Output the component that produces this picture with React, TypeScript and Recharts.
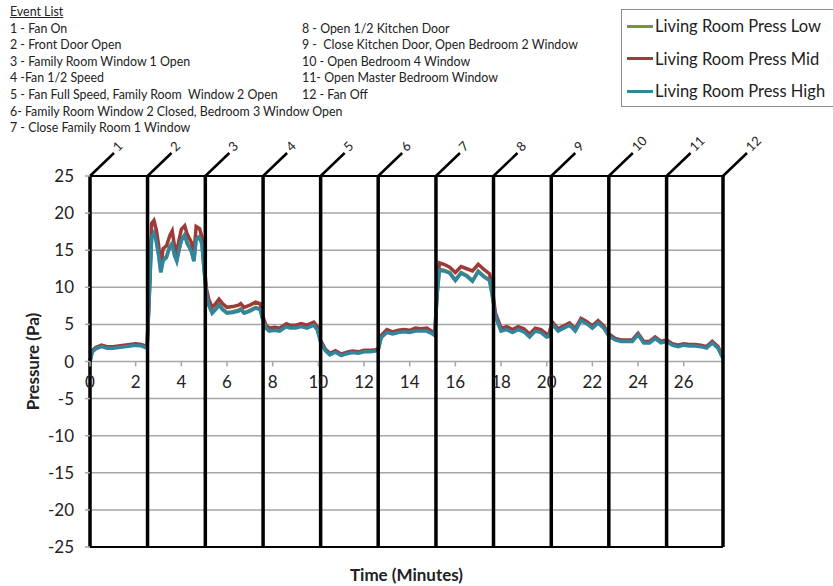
import React from "react";
import { LineChart, Line, XAxis, YAxis, CartesianGrid, ReferenceLine } from "recharts";

// time in minutes, shared by all three series
const minutes = [
  0, 0.1, 0.25, 0.5, 0.75, 1.0, 1.25, 1.5, 1.75, 2.0, 2.25, 2.5,
  2.6, 2.7, 2.8, 2.9, 3.0, 3.1, 3.2, 3.35, 3.5, 3.6, 3.7, 3.8, 3.9, 4.0, 4.15, 4.25, 4.35, 4.45, 4.55, 4.65, 4.8, 4.9,
  5.0, 5.1, 5.2, 5.35, 5.5, 5.65, 5.8, 6.0, 6.25, 6.5, 6.6, 6.75, 7.0, 7.25, 7.45,
  7.55, 7.7, 7.85, 8.1, 8.3, 8.6, 8.75, 9.0, 9.25, 9.5, 9.8, 9.95,
  10.1, 10.3, 10.5, 10.75, 11.0, 11.25, 11.5, 11.75, 12.0, 12.25, 12.5, 12.62,
  12.75, 13.0, 13.25, 13.5, 13.75, 14.0, 14.25, 14.5, 14.75, 15.0, 15.1,
  15.2, 15.3, 15.5, 15.75, 16.0, 16.25, 16.5, 16.75, 17.0, 17.25, 17.5,
  17.65, 17.75, 18.0, 18.25, 18.5, 18.75, 19.0, 19.25, 19.5, 19.75, 20.0, 20.1,
  20.25, 20.5, 20.75, 21.0, 21.25, 21.5, 21.75, 22.0, 22.25, 22.5,
  22.72, 23.0, 23.25, 23.5, 23.75, 24.0, 24.25, 24.5, 24.75, 25.0,
  25.25, 25.5, 25.75, 26.0, 26.25, 26.5, 26.75, 27.0, 27.25, 27.5, 27.72,
];

const pressLow = [
  0, 1.4, 1.8, 2.1, 1.9, 1.9, 2.0, 2.1, 2.2, 2.3, 2.2, 1.9,
  9.1, 17.0, 17.4, 16.4, 14.5, 12.1, 13.7, 14.2, 15.6, 16.0, 14.4, 13.7, 15.1, 16.4, 17.1, 16.1, 15.5, 14.9, 13.6, 16.6, 16.9, 16.0,
  12.3, 9.1, 7.7, 6.6, 7.1, 7.7, 7.1, 6.6, 6.7, 6.9, 7.1, 6.6, 6.9, 7.3, 7.1,
  5.9, 4.6, 4.2, 4.3, 4.2, 4.8, 4.6, 4.6, 4.8, 4.6, 5.0, 4.4,
  2.7, 1.6, 1.0, 1.35, 0.9, 1.15, 1.3, 1.2, 1.4, 1.4, 1.5, 1.6,
  3.3, 4.0, 3.8, 4.0, 4.1, 4.0, 4.2, 4.2, 4.2, 3.8, 3.6,
  9.1, 12.4, 12.3, 12.0, 11.0, 12.0, 11.6, 10.9, 12.2, 11.5, 11.0,
  8.4, 6.2, 4.2, 4.4, 4.0, 4.4, 4.1, 3.4, 4.2, 4.0, 3.4, 3.5,
  5.1, 4.2, 4.6, 5.0, 4.2, 5.6, 5.2, 4.6, 5.3, 4.6,
  3.5, 3.0, 2.8, 2.8, 2.8, 3.7, 2.6, 2.6, 3.2, 2.6,
  2.8, 2.3, 2.1, 2.3, 2.2, 2.2, 2.1, 1.9, 2.6, 1.9, 0.5,
];

const pressMid = [
  0.1, 1.5, 1.9, 2.2, 2.0, 2.0, 2.1, 2.2, 2.3, 2.4, 2.3, 2.0,
  9.8, 18.6, 19.0, 17.8, 15.8, 12.8, 15.2, 15.6, 17.0, 17.6, 15.6, 14.8, 16.4, 17.8, 18.3, 17.2, 16.6, 16.0, 14.6, 18.2, 17.9, 16.8,
  13.0, 9.8, 8.4, 7.3, 7.8, 8.4, 7.8, 7.3, 7.4, 7.6, 7.8, 7.3, 7.6, 8.0, 7.8,
  6.3, 4.9, 4.5, 4.6, 4.5, 5.1, 4.9, 4.9, 5.1, 4.9, 5.3, 4.7,
  2.8, 1.7, 1.1, 1.45, 1.0, 1.25, 1.4, 1.3, 1.5, 1.5, 1.6, 1.7,
  3.5, 4.3, 4.0, 4.2, 4.3, 4.2, 4.5, 4.4, 4.5, 4.0, 3.8,
  9.8, 13.3, 13.1, 12.7, 12.0, 12.8, 12.5, 12.2, 13.1, 12.4, 11.8,
  9.0, 6.6, 4.5, 4.7, 4.3, 4.7, 4.4, 3.7, 4.5, 4.3, 3.7, 3.8,
  5.3, 4.4, 4.8, 5.2, 4.4, 5.8, 5.4, 4.8, 5.5, 4.8,
  3.7, 3.1, 2.9, 2.9, 2.9, 3.8, 2.7, 2.7, 3.3, 2.7,
  2.9, 2.4, 2.2, 2.4, 2.3, 2.3, 2.2, 2.0, 2.7, 2.0, 0.6,
];

const pressHigh = [
  0, 1.3, 1.7, 2.0, 1.8, 1.8, 1.9, 2.0, 2.1, 2.2, 2.1, 1.8,
  9.0, 16.8, 17.3, 16.2, 14.4, 12.0, 13.6, 14.0, 15.5, 15.8, 14.3, 13.5, 15.0, 16.3, 17.0, 15.9, 15.4, 14.7, 13.5, 16.5, 16.7, 15.8,
  12.2, 9.0, 7.6, 6.5, 7.0, 7.6, 7.0, 6.5, 6.6, 6.8, 7.0, 6.5, 6.8, 7.2, 7.0,
  5.8, 4.5, 4.1, 4.2, 4.1, 4.7, 4.5, 4.5, 4.7, 4.5, 4.9, 4.3,
  2.6, 1.5, 0.9, 1.25, 0.8, 1.05, 1.2, 1.1, 1.3, 1.3, 1.4, 1.5,
  3.2, 3.9, 3.7, 3.9, 4.0, 3.9, 4.1, 4.1, 4.1, 3.7, 3.5,
  9.0, 12.3, 12.2, 11.9, 10.9, 11.9, 11.5, 10.8, 12.1, 11.4, 10.9,
  8.3, 6.1, 4.1, 4.3, 3.9, 4.3, 4.0, 3.3, 4.1, 3.9, 3.3, 3.4,
  5.0, 4.1, 4.5, 4.9, 4.1, 5.5, 5.1, 4.5, 5.2, 4.5,
  3.4, 2.9, 2.7, 2.7, 2.7, 3.6, 2.5, 2.5, 3.1, 2.5,
  2.7, 2.2, 2.0, 2.2, 2.1, 2.1, 2.0, 1.8, 2.5, 1.8, 0.4,
];

const eventTimes = [0, 2.52, 5.05, 7.58, 10.1, 12.62, 15.15, 17.67, 20.2, 22.72, 25.25, 27.72];

const eventListLeft = [
  "1 - Fan On",
  "2 - Front Door Open",
  "3 - Family Room Window 1 Open",
  "4 -Fan 1/2 Speed",
  "5 - Fan Full Speed, Family Room  Window 2 Open",
  "6- Family Room Window 2 Closed, Bedroom 3 Window Open",
  "7 - Close Family Room 1 Window",
];
const eventListRight = [
  "8 - Open 1/2 Kitchen Door",
  "9 -  Close Kitchen Door, Open Bedroom 2 Window",
  "10 - Open Bedroom 4 Window",
  "11- Open Master Bedroom Window",
  "12 - Fan Off",
];

const seriesNames = ["Living Room Press Low", "Living Room Press Mid", "Living Room Press High"];
const seriesKeys = ["low", "mid", "high"];
const seriesColors = ["#77933C", "#9E3A38", "#31859C"];

const xTicks = [0, 2, 4, 6, 8, 10, 12, 14, 16, 18, 20, 22, 24, 26];
const yTicks = [-25, -20, -15, -10, -5, 0, 5, 10, 15, 20, 25];

const PLOT_TOP = 176;
const PLOT_H = 371;
const ZERO_Y = PLOT_TOP + PLOT_H / 2;

function XTick(props: any) {
  const { x, payload } = props;
  return (
    <g>
      <line x1={x} x2={x} y1={ZERO_Y} y2={ZERO_Y + 5} stroke="#a6a6a6" strokeWidth={1.5} />
      <text x={x} y={ZERO_Y + 26} textAnchor="middle" fontSize={17} fill="#222">
        {payload.value}
      </text>
    </g>
  );
}

function EventLabel(props: any) {
  const { viewBox, n } = props;
  if (!viewBox) return null;
  const x = viewBox.x;
  const y = viewBox.y;
  return (
    <g>
      <line x1={x} y1={y} x2={x + 24} y2={y - 23} stroke="#000" strokeWidth={2.5} />
      <text
        x={x + 26}
        y={y - 26}
        transform={`rotate(-45 ${x + 26} ${y - 26})`}
        fontSize={13}
        fill="#222"
        dominantBaseline="middle"
      >
        {n}
      </text>
    </g>
  );
}

export default function App() {
  const data = minutes.map((t, i) => ({ t, low: pressLow[i], mid: pressMid[i], high: pressHigh[i] }));

  return (
    <div
      style={{
        position: "absolute",
        left: 0,
        top: 0,
        width: 833,
        height: 586,
        overflow: "hidden",
        background: "#fff",
        fontFamily: "Lato, sans-serif",
      }}
    >
      {/* event list */}
      <div style={{ position: "absolute", left: 10, top: 4, fontSize: 12.4, lineHeight: "16.6px", color: "#222", zIndex: 2 }}>
        <div style={{ textDecoration: "underline" }}>Event List</div>
        {eventListLeft.map((s) => (
          <div key={s} style={{ whiteSpace: "pre" }}>{s}</div>
        ))}
      </div>
      <div style={{ position: "absolute", left: 302, top: 20.6, fontSize: 12.4, lineHeight: "16.6px", color: "#222", zIndex: 2 }}>
        {eventListRight.map((s) => (
          <div key={s} style={{ whiteSpace: "pre" }}>{s}</div>
        ))}
      </div>

      {/* legend */}
      <div
        style={{
          position: "absolute",
          left: 621,
          top: 9,
          width: 230,
          height: 96,
          border: "1px solid #8c8c8c",
          background: "#fff",
          zIndex: 2,
        }}
      >
        {seriesNames.map((name, i) => (
          <div key={name} style={{ position: "absolute", left: 5, top: 4 + i * 32.5, display: "flex", alignItems: "center", height: 24 }}>
            <div style={{ width: 26, height: 3, background: seriesColors[i], marginRight: 2 }} />
            <span style={{ fontSize: 16.5, color: "#222", whiteSpace: "nowrap" }}>{name}</span>
          </div>
        ))}
      </div>

      <LineChart width={833} height={586} data={data} margin={{ top: PLOT_TOP, right: 110, bottom: 0, left: 0 }}>
        <CartesianGrid vertical={false} stroke="#a6a6a6" strokeWidth={1.5} />
        <XAxis
          dataKey="t"
          type="number"
          domain={[0, 27.72]}
          ticks={xTicks}
          interval={0}
          axisLine={false}
          tickLine={false}
          height={39}
          tick={<XTick />}
          label={{ value: "Time (Minutes)", position: "center", dy: 8, style: { fontSize: 17, fontWeight: 700, fill: "#222" } }}
        />
        <YAxis
          type="number"
          domain={[-25, 25]}
          ticks={yTicks}
          interval={0}
          width={90}
          axisLine={false}
          tickLine={{ stroke: "#a6a6a6", strokeWidth: 1.5 }}
          tickSize={5}
          tickMargin={11}
          tick={{ fontSize: 17, fill: "#222" }}
          label={{ value: "Pressure (Pa)", angle: -90, position: "center", dx: -12, style: { fontSize: 17, fontWeight: 700, fill: "#222" } }}
        />
        <ReferenceLine y={25} stroke="#000" strokeWidth={2} />
        <ReferenceLine y={-25} stroke="#000" strokeWidth={2} />
        {seriesKeys.map((k, i) => (
          <Line
            key={k}
            type="linear"
            dataKey={k}
            name={seriesNames[i]}
            stroke={seriesColors[i]}
            strokeWidth={3.5}
            dot={false}
            isAnimationActive={false}
          />
        ))}
        {eventTimes.map((t, i) => (
          <ReferenceLine key={t} x={t} stroke="#000" strokeWidth={3.5} label={<EventLabel n={i + 1} />} />
        ))}
      </LineChart>
    </div>
  );
}
